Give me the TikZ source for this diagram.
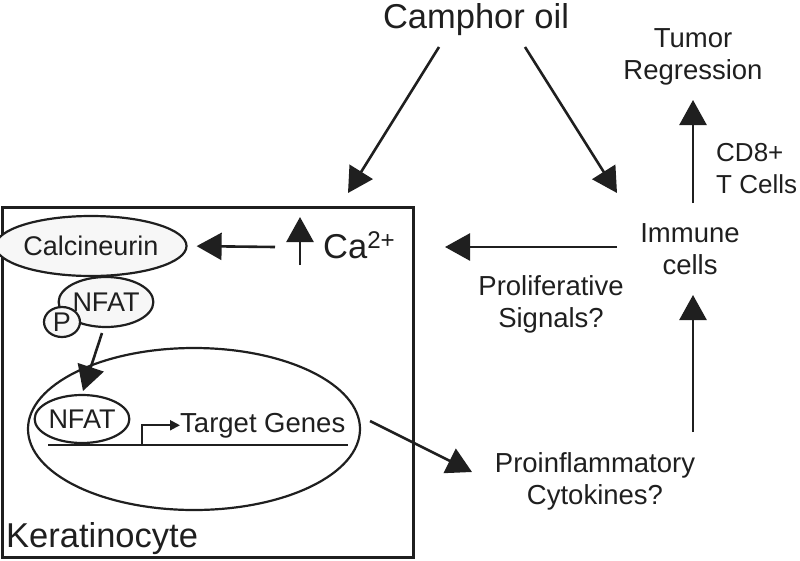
\documentclass[tikz,border=0pt]{standalone}
\usepackage{fontspec}
\setmainfont{Liberation Sans}
\usetikzlibrary{arrows.meta,shapes.geometric}
\definecolor{ink}{gray}{0.12}
\tikzset{
  lbl/.style={font=\fontsize{27.5}{32}\selectfont, text=ink, align=center, inner sep=0pt},
  biglbl/.style={font=\fontsize{34.5}{38}\selectfont, text=ink, inner sep=0pt},
  protein/.style={ellipse, draw=ink, line width=2.2pt, fill=gray!6, inner sep=0pt,
    font=\fontsize{27}{30}\selectfont, text=ink},
  bigarrow/.style={draw=ink, line width=2.6pt, -{Triangle[length=25pt,width=27pt]}},
}
\begin{document}
\begin{tikzpicture}[x=1pt, y=-1pt]
            \useasboundingbox (0,0) rectangle (800,560);
            % keratinocyte
            \node[draw=ink, line width=3pt, minimum width=411pt, minimum height=350pt, inner sep=0pt] (cell) at (207.5,382) {};
            \node[biglbl, anchor=base west] (kera) at (6,547) {Keratinocyte};
            \node[protein, minimum width=166pt, minimum height=60pt] (calcin) at (91,246) {Calcineurin};
            \node[protein, minimum width=92pt, minimum height=50pt] (nfatp) at (106,302) {NFAT};
            \node[protein, minimum width=36pt, minimum height=30pt] (phos) at (62,322) {P};
            \node[ellipse, draw=ink, line width=2.2pt, minimum width=332pt, minimum height=162pt] (nucleus) at (194,429) {};
            \node[protein, fill=none, minimum width=94pt, minimum height=48pt] (nfatn) at (82,419) {NFAT};
            \node[lbl, anchor=base west] (genes) at (180,432) {Target Genes};
            \node[biglbl, anchor=base west] (ca) at (323,258) {Ca\textsuperscript{2+}};
            % outside
            \node[biglbl, anchor=base] (camphor) at (476,28) {Camphor oil};
            \node[lbl] (tumor) at (693,57) {Tumor\\Regression};
            \node[lbl, font=\fontsize{26}{32}\selectfont, align=left, anchor=west] (cd8) at (716,169) {CD8+\\T Cells};
            \node[lbl] (immune) at (690,249) {Immune\\cells};
            \node[lbl] (prolif) at (551,304) {Proliferative\\Signals?};
            \node[lbl] (proinfl) at (595,481) {Proinflammatory\\Cytokines?};
            % arrow ends
            \coordinate (camL) at (439,47);
            \coordinate (camR) at (525,47);
            \coordinate (cellT) at (348,193);
            \coordinate (immT) at (617,193);
            \coordinate (immN) at (693,203);
            \coordinate (tumS) at (693,100);
            \coordinate (proN) at (693,432);
            \coordinate (immS) at (693,295);
            \coordinate (immW) at (617,247);
            \coordinate (cellR) at (445,247);
            \coordinate (caB) at (300,265);
            \coordinate (caT) at (300,217);
            \coordinate (caL) at (275,247);
            \coordinate (nfatS) at (102,333);
            \coordinate (nfatT) at (83,391);
            \coordinate (nucE) at (370,421);
            \coordinate (proW) at (472,472);
            \coordinate (dnaL) at (48,445);
            \coordinate (dnaR) at (348,445);
            \draw[bigarrow] (camL) -- (cellT);
            \draw[bigarrow] (camR) -- (immT);
            \draw[bigarrow] (immN) -- (tumS);
            \draw[bigarrow] (proN) -- (immS);
            \draw[bigarrow] (immW) -- (cellR);
            \draw[bigarrow] (caB) -- (caT);
            \draw[bigarrow, shorten >=9pt] (caL) -- (calcin.east);
            \draw[bigarrow] (nfatS) -- (nfatT);
            \draw[bigarrow] (nucE) -- (proW);
            % gene
            \draw[ink, line width=2.2pt] (dnaL) -- (dnaR);
            \draw[ink, line width=2pt, -{Triangle[length=10pt,width=10pt]}] (142,445) |- (genes.west);
        \end{tikzpicture}
\end{document}
